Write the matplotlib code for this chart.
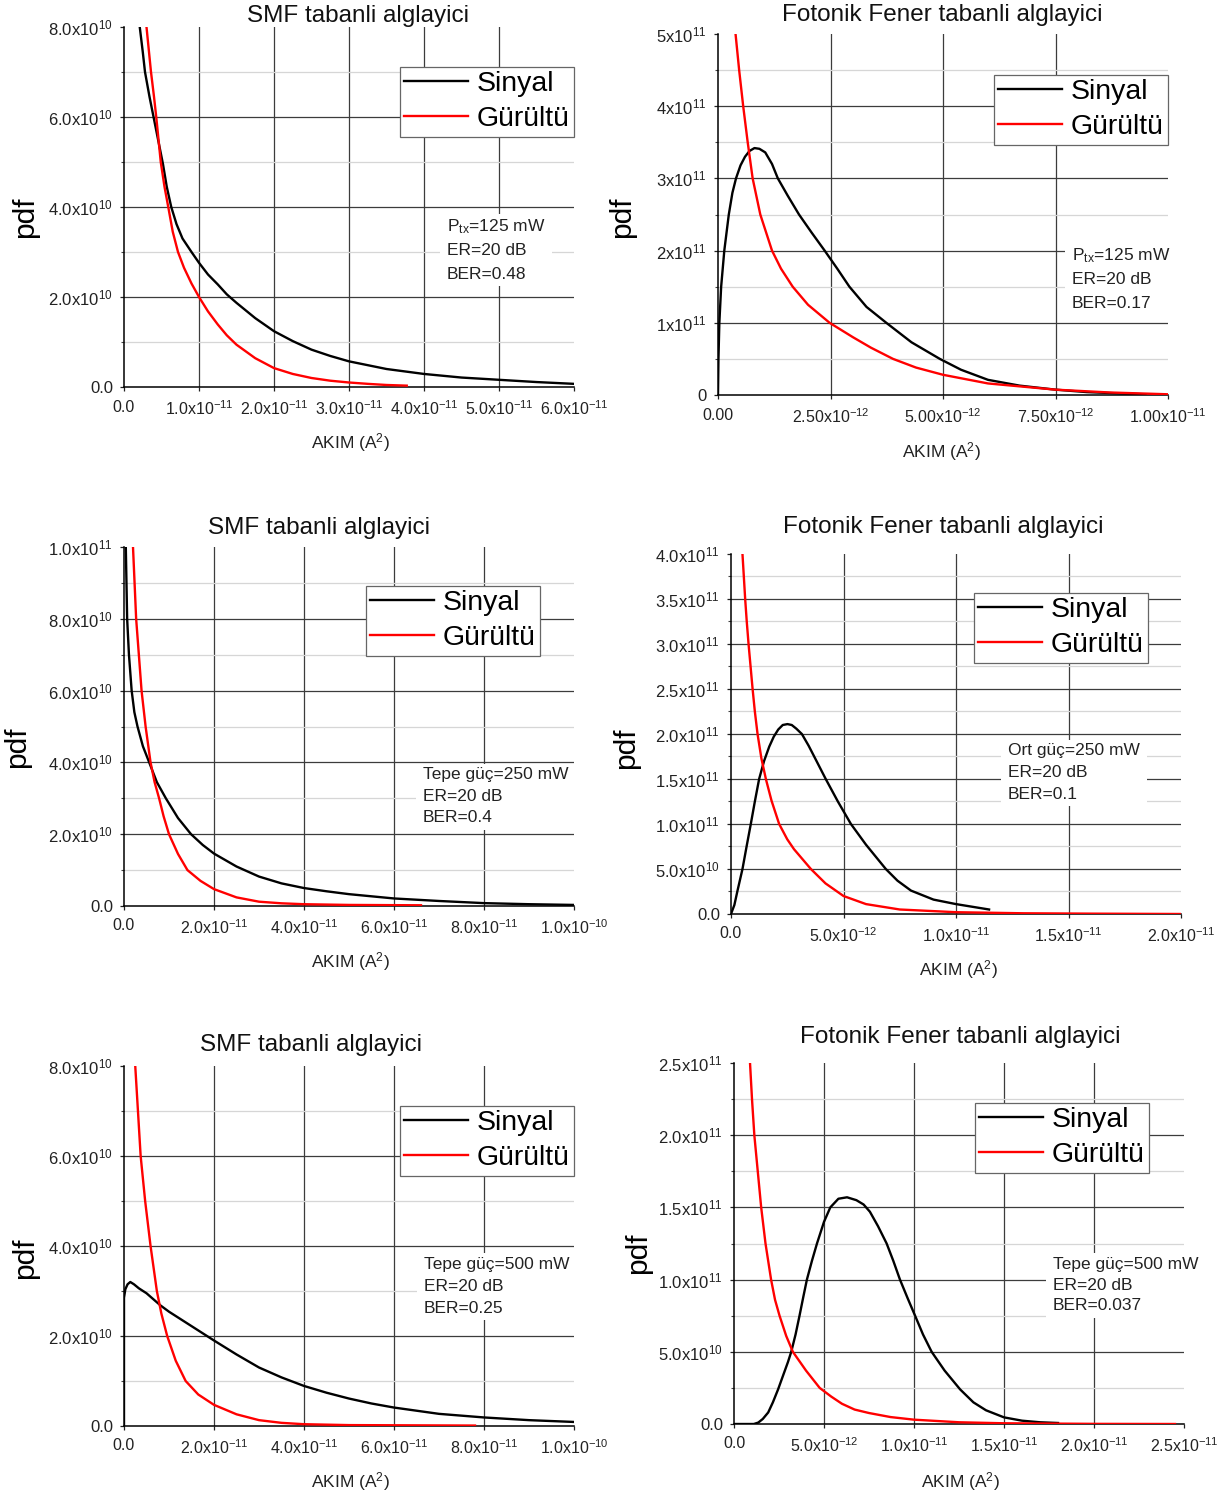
import numpy as np
import matplotlib
matplotlib.use('Agg')
import matplotlib.pyplot as plt
from matplotlib.patches import Rectangle

plt.rcParams['font.family'] = ['Liberation Sans', 'DejaVu Sans']
plt.rcParams['mathtext.fontset'] = 'custom'
plt.rcParams['mathtext.rm'] = 'Liberation Sans'
plt.rcParams['mathtext.it'] = 'Liberation Sans:italic'
plt.rcParams['mathtext.bf'] = 'Liberation Sans:bold'

W, H = 1227, 1494

# ---- data ----
# panel 1: SMF, Ptx=125 mW   (x in 1e-11 A^2, y in 1e10)
p1_sig_x = [0.21, 0.25, 0.28, 0.34, 0.40, 0.46, 0.52, 0.57, 0.63, 0.70, 0.78, 0.90, 1.0, 1.12, 1.25, 1.37,
            1.5, 1.75, 2.0, 2.25, 2.5, 2.75, 3.0, 3.5, 4.0, 4.5, 5.0, 5.5, 6.0]
p1_sig_y = [8.0, 7.45, 7.0, 6.45, 5.95, 5.45, 4.95, 4.45, 4.0, 3.62, 3.3, 3.0, 2.76, 2.5, 2.28, 2.06,
            1.87, 1.53, 1.24, 1.02, 0.83, 0.69, 0.57, 0.40, 0.29, 0.21, 0.16, 0.11, 0.07]
p1_noi_x = [0.30, 0.33, 0.36, 0.40, 0.43, 0.46, 0.49, 0.54, 0.59, 0.65, 0.72, 0.80, 0.90, 1.0, 1.12, 1.25,
            1.37, 1.5, 1.75, 2.0, 2.25, 2.5, 2.75, 3.0, 3.25, 3.5, 3.77]
p1_noi_y = [8.0, 7.5, 7.0, 6.45, 6.0, 5.5, 5.0, 4.45, 4.0, 3.45, 3.0, 2.65, 2.3, 2.0, 1.68, 1.39,
            1.15, 0.94, 0.64, 0.42, 0.29, 0.20, 0.14, 0.10, 0.07, 0.045, 0.03]

# panel 2: Fotonik Fener, Ptx=125 mW   (x in 1e-12, y in 1e11)
p2_sig_x = [0.0, 0.01, 0.03, 0.07, 0.14, 0.24, 0.32, 0.40, 0.50, 0.60, 0.70, 0.81, 0.92, 1.05, 1.2, 1.33,
            1.55, 1.80, 2.08, 2.37, 2.65, 2.92, 3.3, 3.74, 4.3, 4.93, 5.4, 6.0, 6.7, 7.5, 8.2, 9.0, 9.5]
p2_sig_y = [0.0, 0.5, 1.0, 1.5, 2.0, 2.5, 2.8, 3.0, 3.18, 3.3, 3.38, 3.42, 3.41, 3.36, 3.2, 3.0,
            2.76, 2.5, 2.25, 2.0, 1.75, 1.5, 1.22, 1.0, 0.73, 0.5, 0.35, 0.21, 0.13, 0.074, 0.04, 0.02, 0.01]
p2_noi_x = [0.39, 0.47, 0.56, 0.66, 0.77, 0.94, 1.2, 1.4, 1.66, 2.0, 2.48, 3.0, 3.4, 3.89, 4.4, 5.0,
            6.0, 7.5, 8.7, 10.0]
p2_noi_y = [5.0, 4.5, 4.0, 3.5, 3.0, 2.5, 2.0, 1.75, 1.5, 1.25, 1.0, 0.8, 0.655, 0.5, 0.38, 0.28,
            0.16, 0.074, 0.035, 0.01]

# panel 3: SMF, tepe 250 mW   (x in 1e-11, y in 1e10)
p3_sig_x = [0.04, 0.055, 0.07, 0.11, 0.17, 0.23, 0.30, 0.42, 0.56, 0.73, 0.93, 1.2, 1.49, 1.75, 2.0,
            2.5, 3.0, 3.5, 4.0, 4.5, 5.0, 6.0, 7.0, 8.0, 9.0, 10.0]
p3_sig_y = [10.0, 9.0, 8.0, 7.0, 6.0, 5.4, 5.0, 4.45, 4.0, 3.45, 3.0, 2.45, 2.0, 1.7, 1.46,
            1.1, 0.82, 0.63, 0.50, 0.41, 0.33, 0.21, 0.14, 0.08, 0.05, 0.03]
p3_noi_x = [0.20, 0.235, 0.27, 0.33, 0.39, 0.48, 0.59, 0.68, 0.78, 0.88, 1.0, 1.2, 1.41, 1.7, 2.0,
            2.5, 3.0, 3.5, 4.0, 5.0, 6.6]
p3_noi_y = [10.0, 9.0, 8.0, 7.0, 6.0, 5.0, 4.0, 3.45, 3.0, 2.5, 2.0, 1.45, 1.0, 0.7, 0.47,
            0.24, 0.12, 0.075, 0.05, 0.03, 0.02]

# panel 4: Fotonik Fener, ort 250 mW   (x in 1e-12, y in 1e11)
p4_sig_x = [0.0, 0.15, 0.29, 0.51, 0.70, 0.88, 1.06, 1.25, 1.47, 1.7, 1.9, 2.1, 2.3, 2.51, 2.7, 2.9,
            3.15, 3.45, 3.8, 4.21, 4.75, 5.33, 6.0, 6.88, 7.4, 8.0, 9.0, 10.0, 11.47]
p4_sig_y = [0.0, 0.1, 0.26, 0.5, 0.76, 1.0, 1.25, 1.5, 1.7, 1.86, 1.97, 2.05, 2.1, 2.11, 2.1, 2.06,
            2.0, 1.87, 1.7, 1.5, 1.25, 1.0, 0.77, 0.5, 0.37, 0.26, 0.16, 0.11, 0.05]
p4_noi_x = [0.51, 0.57, 0.63, 0.70, 0.78, 0.87, 0.96, 1.06, 1.18, 1.35, 1.55, 1.8, 2.14, 2.5, 2.8,
            3.55, 4.2, 5.0, 6.0, 7.5, 10.0, 13.0, 16.0, 20.0]
p4_noi_y = [4.0, 3.75, 3.5, 3.25, 3.0, 2.75, 2.5, 2.25, 2.0, 1.73, 1.5, 1.26, 1.0, 0.83, 0.72,
            0.5, 0.34, 0.2, 0.11, 0.05, 0.02, 0.008, 0.004, 0.0]

# panel 5: SMF, tepe 500 mW   (x in 1e-11, y in 1e10)
p5_sig_x = [0.0, 0.0, 0.03, 0.08, 0.14, 0.22, 0.33, 0.5, 0.81, 1.0, 1.5, 2.0, 2.5, 3.0, 3.5, 4.0,
            4.5, 5.0, 5.5, 6.0, 7.0, 8.0, 9.0, 10.0]
p5_sig_y = [0.0, 2.85, 3.04, 3.15, 3.2, 3.15, 3.06, 2.95, 2.68, 2.54, 2.22, 1.9, 1.59, 1.30, 1.08, 0.89,
            0.74, 0.61, 0.5, 0.41, 0.27, 0.19, 0.13, 0.09]
p5_noi_x = [0.25, 0.28, 0.31, 0.34, 0.37, 0.42, 0.47, 0.53, 0.59, 0.66, 0.73, 0.83, 0.96, 1.15, 1.37,
            1.65, 2.0, 2.5, 3.0, 3.5, 4.0, 5.0, 7.8]
p5_noi_y = [8.0, 7.5, 7.0, 6.5, 6.0, 5.5, 5.0, 4.5, 4.0, 3.5, 3.0, 2.5, 2.0, 1.45, 1.0,
            0.7, 0.47, 0.26, 0.13, 0.07, 0.04, 0.02, 0.01]

# panel 6: Fotonik Fener, tepe 500 mW   (x in 1e-12, y in 1e11)
p6_sig_x = [0.0, 1.1, 1.35, 1.6, 1.9, 2.16, 2.45, 2.71, 3.0, 3.18, 3.42, 3.64, 3.85, 4.05, 4.33, 4.61,
            5.0, 5.35, 5.8, 6.28, 6.8, 7.2, 7.55, 8.0, 8.48, 8.85, 9.22, 9.65, 10.06, 10.5, 10.98,
            11.7, 12.56, 13.3, 14.0, 15.0, 16.0, 17.0, 18.0]
p6_sig_y = [0.0, 0.0, 0.01, 0.035, 0.08, 0.15, 0.24, 0.33, 0.43, 0.5, 0.62, 0.75, 0.88, 1.0, 1.13, 1.25,
            1.4, 1.5, 1.56, 1.57, 1.55, 1.52, 1.47, 1.37, 1.25, 1.13, 1.0, 0.87, 0.75, 0.62, 0.5,
            0.37, 0.24, 0.15, 0.095, 0.046, 0.023, 0.012, 0.007]
p6_noi_x = [0.89, 1.0, 1.13, 1.32, 1.51, 1.75, 2.06, 2.28, 2.53, 2.9, 3.27, 4.0, 4.76, 5.4, 6.0, 6.7,
            7.5, 8.7, 10.0, 12.5, 15.0, 20.0, 24.5]
p6_noi_y = [2.5, 2.25, 2.0, 1.75, 1.5, 1.25, 1.0, 0.86, 0.75, 0.61, 0.5, 0.37, 0.25, 0.19, 0.14, 0.1,
            0.076, 0.048, 0.03, 0.012, 0.005, 0.001, 0.0]

# ---- ticks ----
smf6_xticks = [0, 1, 2, 3, 4, 5, 6]
smf6_xlabels = ['0.0'] + [r'%d.0x10$^{-11}$' % i for i in range(1, 7)]
smf10_xticks = [0, 2, 4, 6, 8, 10]
smf10_xlabels = ['0.0', r'2.0x10$^{-11}$', r'4.0x10$^{-11}$', r'6.0x10$^{-11}$', r'8.0x10$^{-11}$', r'1.0x10$^{-10}$']
ff1_xticks = [0, 2.5, 5, 7.5, 10]
ff1_xlabels = ['0.00', r'2.50x10$^{-12}$', r'5.00x10$^{-12}$', r'7.50x10$^{-12}$', r'1.00x10$^{-11}$']
ff2_xticks = [0, 5, 10, 15, 20]
ff2_xlabels = ['0.0', r'5.0x10$^{-12}$', r'1.0x10$^{-11}$', r'1.5x10$^{-11}$', r'2.0x10$^{-11}$']
ff3_xticks = [0, 5, 10, 15, 20, 25]
ff3_xlabels = ff2_xlabels + [r'2.5x10$^{-11}$']

smf8_yticks = [0, 2, 4, 6, 8]
smf8_ylabels = ['0.0'] + [r'%d.0x10$^{10}$' % i for i in (2, 4, 6, 8)]
smf10_yticks = [0, 2, 4, 6, 8, 10]
smf10_ylabels = smf8_ylabels + [r'1.0x10$^{11}$']
ff5_yticks = [0, 1, 2, 3, 4, 5]
ff5_ylabels = ['0'] + [r'%dx10$^{11}$' % i for i in range(1, 6)]
ff4_yticks = [0, 0.5, 1, 1.5, 2, 2.5, 3, 3.5, 4]
ff4_ylabels = ['0.0', r'5.0x10$^{10}$'] + [r'%.1fx10$^{11}$' % v for v in ff4_yticks[2:]]
ff25_yticks = [0, 0.5, 1, 1.5, 2, 2.5]
ff25_ylabels = ff4_ylabels[:6]

titles = ['SMF tabanli alglayici', 'Fotonik Fener tabanli alglayici'] * 3
notes = [
    [r'P$_\mathregular{tx}$=125 mW', 'ER=20 dB', 'BER=0.48'],
    [r'P$_\mathregular{tx}$=125 mW', 'ER=20 dB', 'BER=0.17'],
    ['Tepe güç=250 mW', 'ER=20 dB', 'BER=0.4'],
    ['Ort güç=250 mW', 'ER=20 dB', 'BER=0.1'],
    ['Tepe güç=500 mW', 'ER=20 dB', 'BER=0.25'],
    ['Tepe güç=500 mW', 'ER=20 dB', 'BER=0.037'],
]
series_names = ['Sinyal', 'Gürültü']

panels = [
    dict(rect=(124, 27, 574, 387), xs=1e-11, ys=1e10, xmax=6, ymax=8,
         xt=smf6_xticks, xl=smf6_xlabels, yt=smf8_yticks, yl=smf8_ylabels, ystep=1,
         sig=(p1_sig_x, p1_sig_y), noi=(p1_noi_x, p1_noi_y),
         title_xy=(358, 16), pdf_xy=(25, 217), akim_xy=(350, 443),
         note_xy=(447, 227), note_dy=23.7, leg_xy=(400, 67)),
    dict(rect=(718, 34, 1168, 395), xs=1e-12, ys=1e11, xmax=10, ymax=5,
         xt=ff1_xticks, xl=ff1_xlabels, yt=ff5_yticks, yl=ff5_ylabels, ystep=0.5,
         sig=(p2_sig_x, p2_sig_y), noi=(p2_noi_x, p2_noi_y),
         title_xy=(942, 15), pdf_xy=(622, 217), akim_xy=(941, 452),
         note_xy=(1072, 256), note_dy=23.8, leg_xy=(994, 75)),
    dict(rect=(124, 547, 574, 906), xs=1e-11, ys=1e10, xmax=10, ymax=10,
         xt=smf10_xticks, xl=smf10_xlabels, yt=smf10_yticks, yl=smf10_ylabels, ystep=1,
         sig=(p3_sig_x, p3_sig_y), noi=(p3_noi_x, p3_noi_y),
         title_xy=(319, 528), pdf_xy=(17, 747), akim_xy=(350, 962),
         note_xy=(423, 775), note_dy=21.5, leg_xy=(366, 586)),
    dict(rect=(731, 554, 1181, 914), xs=1e-12, ys=1e11, xmax=20, ymax=4,
         xt=ff2_xticks, xl=ff2_xlabels, yt=ff4_yticks, yl=ff4_ylabels, ystep=0.25,
         sig=(p4_sig_x, p4_sig_y), noi=(p4_noi_x, p4_noi_y),
         title_xy=(943, 527), pdf_xy=(626, 748), akim_xy=(958, 970),
         note_xy=(1008, 751), note_dy=21.7, leg_xy=(974, 593)),
    dict(rect=(124, 1066, 574, 1426), xs=1e-11, ys=1e10, xmax=10, ymax=8,
         xt=smf10_xticks, xl=smf10_xlabels, yt=smf8_yticks, yl=smf8_ylabels, ystep=1,
         sig=(p5_sig_x, p5_sig_y), noi=(p5_noi_x, p5_noi_y),
         title_xy=(311, 1045), pdf_xy=(25, 1258), akim_xy=(350, 1482),
         note_xy=(424, 1264), note_dy=22.2, leg_xy=(400, 1106)),
    dict(rect=(734, 1063, 1184, 1424), xs=1e-12, ys=1e11, xmax=25, ymax=2.5,
         xt=ff3_xticks, xl=ff3_xlabels, yt=ff25_yticks, yl=ff25_ylabels, ystep=0.25,
         sig=(p6_sig_x, p6_sig_y), noi=(p6_noi_x, p6_noi_y),
         title_xy=(960, 1037), pdf_xy=(638, 1253), akim_xy=(960, 1482),
         note_xy=(1053, 1264), note_dy=21.0, leg_xy=(975, 1103)),
]

fig = plt.figure(figsize=(W / 100, H / 100), dpi=100)
renderer = fig.canvas.get_renderer()


def fxy(x, y):
    return x / W, 1 - y / H


for i, p in enumerate(panels):
    l, t, r, b = p['rect']
    ax = fig.add_axes([l / W, 1 - b / H, (r - l) / W, (b - t) / H])
    xs, ys = p['xs'], p['ys']
    ax.set_xlim(0, p['xmax'] * xs)
    ax.set_ylim(0, p['ymax'] * ys)

    # grid: dark at major ticks, light between
    for v in p['xt'][1:-1]:
        ax.axvline(v * xs, color='#3c3c3c', lw=0.9, zorder=0)
    for v in p['yt'][1:-1]:
        ax.axhline(v * ys, color='#3c3c3c', lw=0.9, zorder=0)
    minor = np.arange(p['ystep'], p['ymax'], p['ystep'])
    minor = [m for m in minor if not np.any(np.isclose(m, p['yt']))]
    for v in minor:
        ax.axhline(v * ys, color='#d6d6d6', lw=0.9, zorder=0)

    sx, sy = p['sig']
    nx, ny = p['noi']
    ax.plot(np.array(sx) * xs, np.array(sy) * ys, color='black', lw=1.7,
            label=series_names[0], zorder=3, solid_joinstyle='round')
    ax.plot(np.array(nx) * xs, np.array(ny) * ys, color='#ff0000', lw=1.7,
            label=series_names[1], zorder=3, solid_joinstyle='round')

    ax.set_xticks([v * xs for v in p['xt']])
    ax.set_xticklabels(p['xl'])
    ax.set_yticks([v * ys for v in p['yt']])
    ax.set_yticklabels(p['yl'])
    ax.set_yticks([v * ys for v in minor], minor=True)
    ax.tick_params(axis='x', labelsize=11.5, length=3, width=0.9, pad=6, colors='#222222')
    ax.tick_params(axis='y', labelsize=12, length=3, width=0.9, pad=5, colors='#222222')
    ax.tick_params(axis='y', which='minor', length=2, width=0.8, color='#444444')
    for s in ('top', 'right'):
        ax.spines[s].set_visible(False)
    for s in ('left', 'bottom'):
        ax.spines[s].set_linewidth(1.1)
    ax.patch.set_alpha(0)

    leg = ax.legend(loc='upper left', bbox_to_anchor=fxy(*p['leg_xy']),
                    bbox_transform=fig.transFigure, fontsize=20.5, frameon=True,
                    fancybox=False, framealpha=1, edgecolor='#666666',
                    borderpad=0.15, labelspacing=0.32, handlelength=2.25,
                    handletextpad=0.3, borderaxespad=0)
    leg.get_frame().set_linewidth(0.9)
    leg.set_zorder(5)

    # annotation block on a white patch that hides the grid
    nx0, ny0 = p['note_xy']
    texts = []
    for k, line in enumerate(notes[i]):
        texts.append(ax.text(*fxy(nx0, ny0 + k * p['note_dy']), line, transform=fig.transFigure,
                             fontsize=12.5, ha='left', va='center', color='#222222', zorder=6))
    bbs = [tx.get_window_extent(renderer) for tx in texts]
    x0 = min(bb.x0 for bb in bbs) - 7
    x1 = max(bb.x1 for bb in bbs) + 7
    y0 = min(bb.y0 for bb in bbs) - 4
    y1 = max(bb.y1 for bb in bbs) + 4
    ax.add_patch(Rectangle((x0 / W, y0 / H), (x1 - x0) / W, (y1 - y0) / H,
                           transform=fig.transFigure, facecolor='white', edgecolor='none',
                           zorder=1, clip_on=False))

    fig.text(*fxy(*p['title_xy']), titles[i], fontsize=17.5, ha='center', va='center', color='#111111')
    fig.text(*fxy(*p['pdf_xy']), 'pdf', fontsize=21.5, rotation=90, ha='center', va='center')
    fig.text(*fxy(*p['akim_xy']), r'AKIM (A$^2$)', fontsize=12.5, ha='center', va='center', color='#222222')

fig.savefig('out.png', dpi=100, facecolor='white')
